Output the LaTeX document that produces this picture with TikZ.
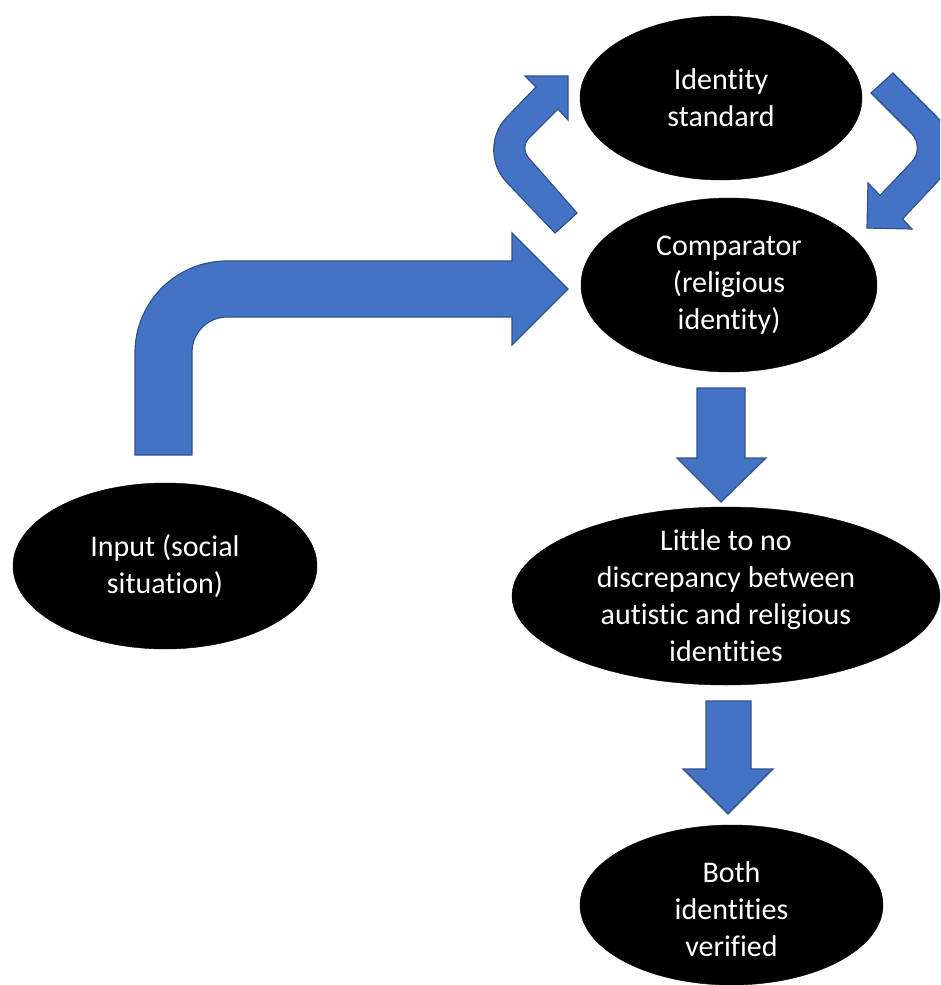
\documentclass[tikz,border=0pt]{standalone}
\usepackage{fontspec}
\setmainfont{Carlito}[Ligatures=NoCommon]
\usetikzlibrary{shapes.geometric}
\definecolor{arrowfill}{HTML}{4472C4}
\definecolor{arrowline}{HTML}{2F528F}
\begin{document}
\begin{tikzpicture}[x=1pt,y=-1pt,
  bubble/.style={ellipse, fill=black, draw=black, inner sep=0pt},
  bubbletext/.style={text=white, align=center, inner sep=0pt,
    font=\fontsize{30pt}{37pt}\selectfont},
  blockarrow/.style={fill=arrowfill, draw=arrowline, line width=1.2pt, line join=miter}]
\useasboundingbox (0,0) rectangle (940,985);
\clip (0,0) rectangle (940,985);

% bent arrow: input -> comparator
\draw[blockarrow] (135,455) -- (135,353)
  .. controls (135,302.2) and (175.8,261) .. (227,261)
  -- (512,261) -- (512,233) -- (568,289) -- (512,345) -- (512,317) -- (227,317)
  .. controls (207.7,317) and (192,332.7) .. (192,352)
  -- (192,455) -- cycle;

% curved arrow: comparator -> identity standard
\draw[blockarrow] (577,213) -- (555,233) -- (506.5,182.1)
  .. controls (489.4,164.1) and (489.5,135.0) .. (506.8,117.2)
  -- (536,87) -- (525,76) -- (568,76) -- (568,120) -- (558,109) -- (528.7,138.3)
  .. controls (523.6,143.4) and (523.4,151.9) .. (528.1,157.3)
  -- cycle;

% curved arrow: identity standard -> comparator
\draw[blockarrow] (893,73) -- (936.7,116.7)
  .. controls (954.3,134.3) and (954.7,163.2) .. (937.8,181.3)
  -- (902.5,219) -- (912,229) -- (867,228) -- (868,183) -- (880,195.5) -- (911.7,162.0)
  .. controls (919.3,154.0) and (919.2,141.2) .. (911.4,133.4)
  -- (871,93) -- cycle;

% straight down arrows
\draw[blockarrow] (697,388) -- (745,388) -- (745,458) -- (766,458) -- (721,502)
  -- (677,458) -- (697,458) -- cycle;
\draw[blockarrow] (706,701) -- (751,701) -- (751,769) -- (773,769) -- (728,814)
  -- (683,769) -- (706,769) -- cycle;

% ellipses
\node[bubble, minimum width=282pt, minimum height=164pt] (std) at (721,98) {};
\node[bubbletext] (stdtext) at (std.center) {Identity\\standard};

\node[bubble, minimum width=296pt, minimum height=174pt] (cmp) at (729,285) {};
\node[bubbletext] (cmptext) at (cmp.center) {Comparator\\(religious\\identity)};

\node[bubble, minimum width=304pt, minimum height=166pt] (inp) at (165,566) {};
\node[bubbletext] (inptext) at (inp.center) {Input (social\\situation)};

\node[bubble, minimum width=428pt, minimum height=178pt] (lit) at (726,596) {};
\node[bubbletext] (littext) at (lit.center) {Little to no\\discrepancy between\\autistic and religious\\identities};

\node[bubble, minimum width=303pt, minimum height=160pt] (both) at (731.5,905) {};
\node[bubbletext] (bothtext) at ([yshift=-4pt]both.center) {Both\\identities\\verified};
\end{tikzpicture}
\end{document}
